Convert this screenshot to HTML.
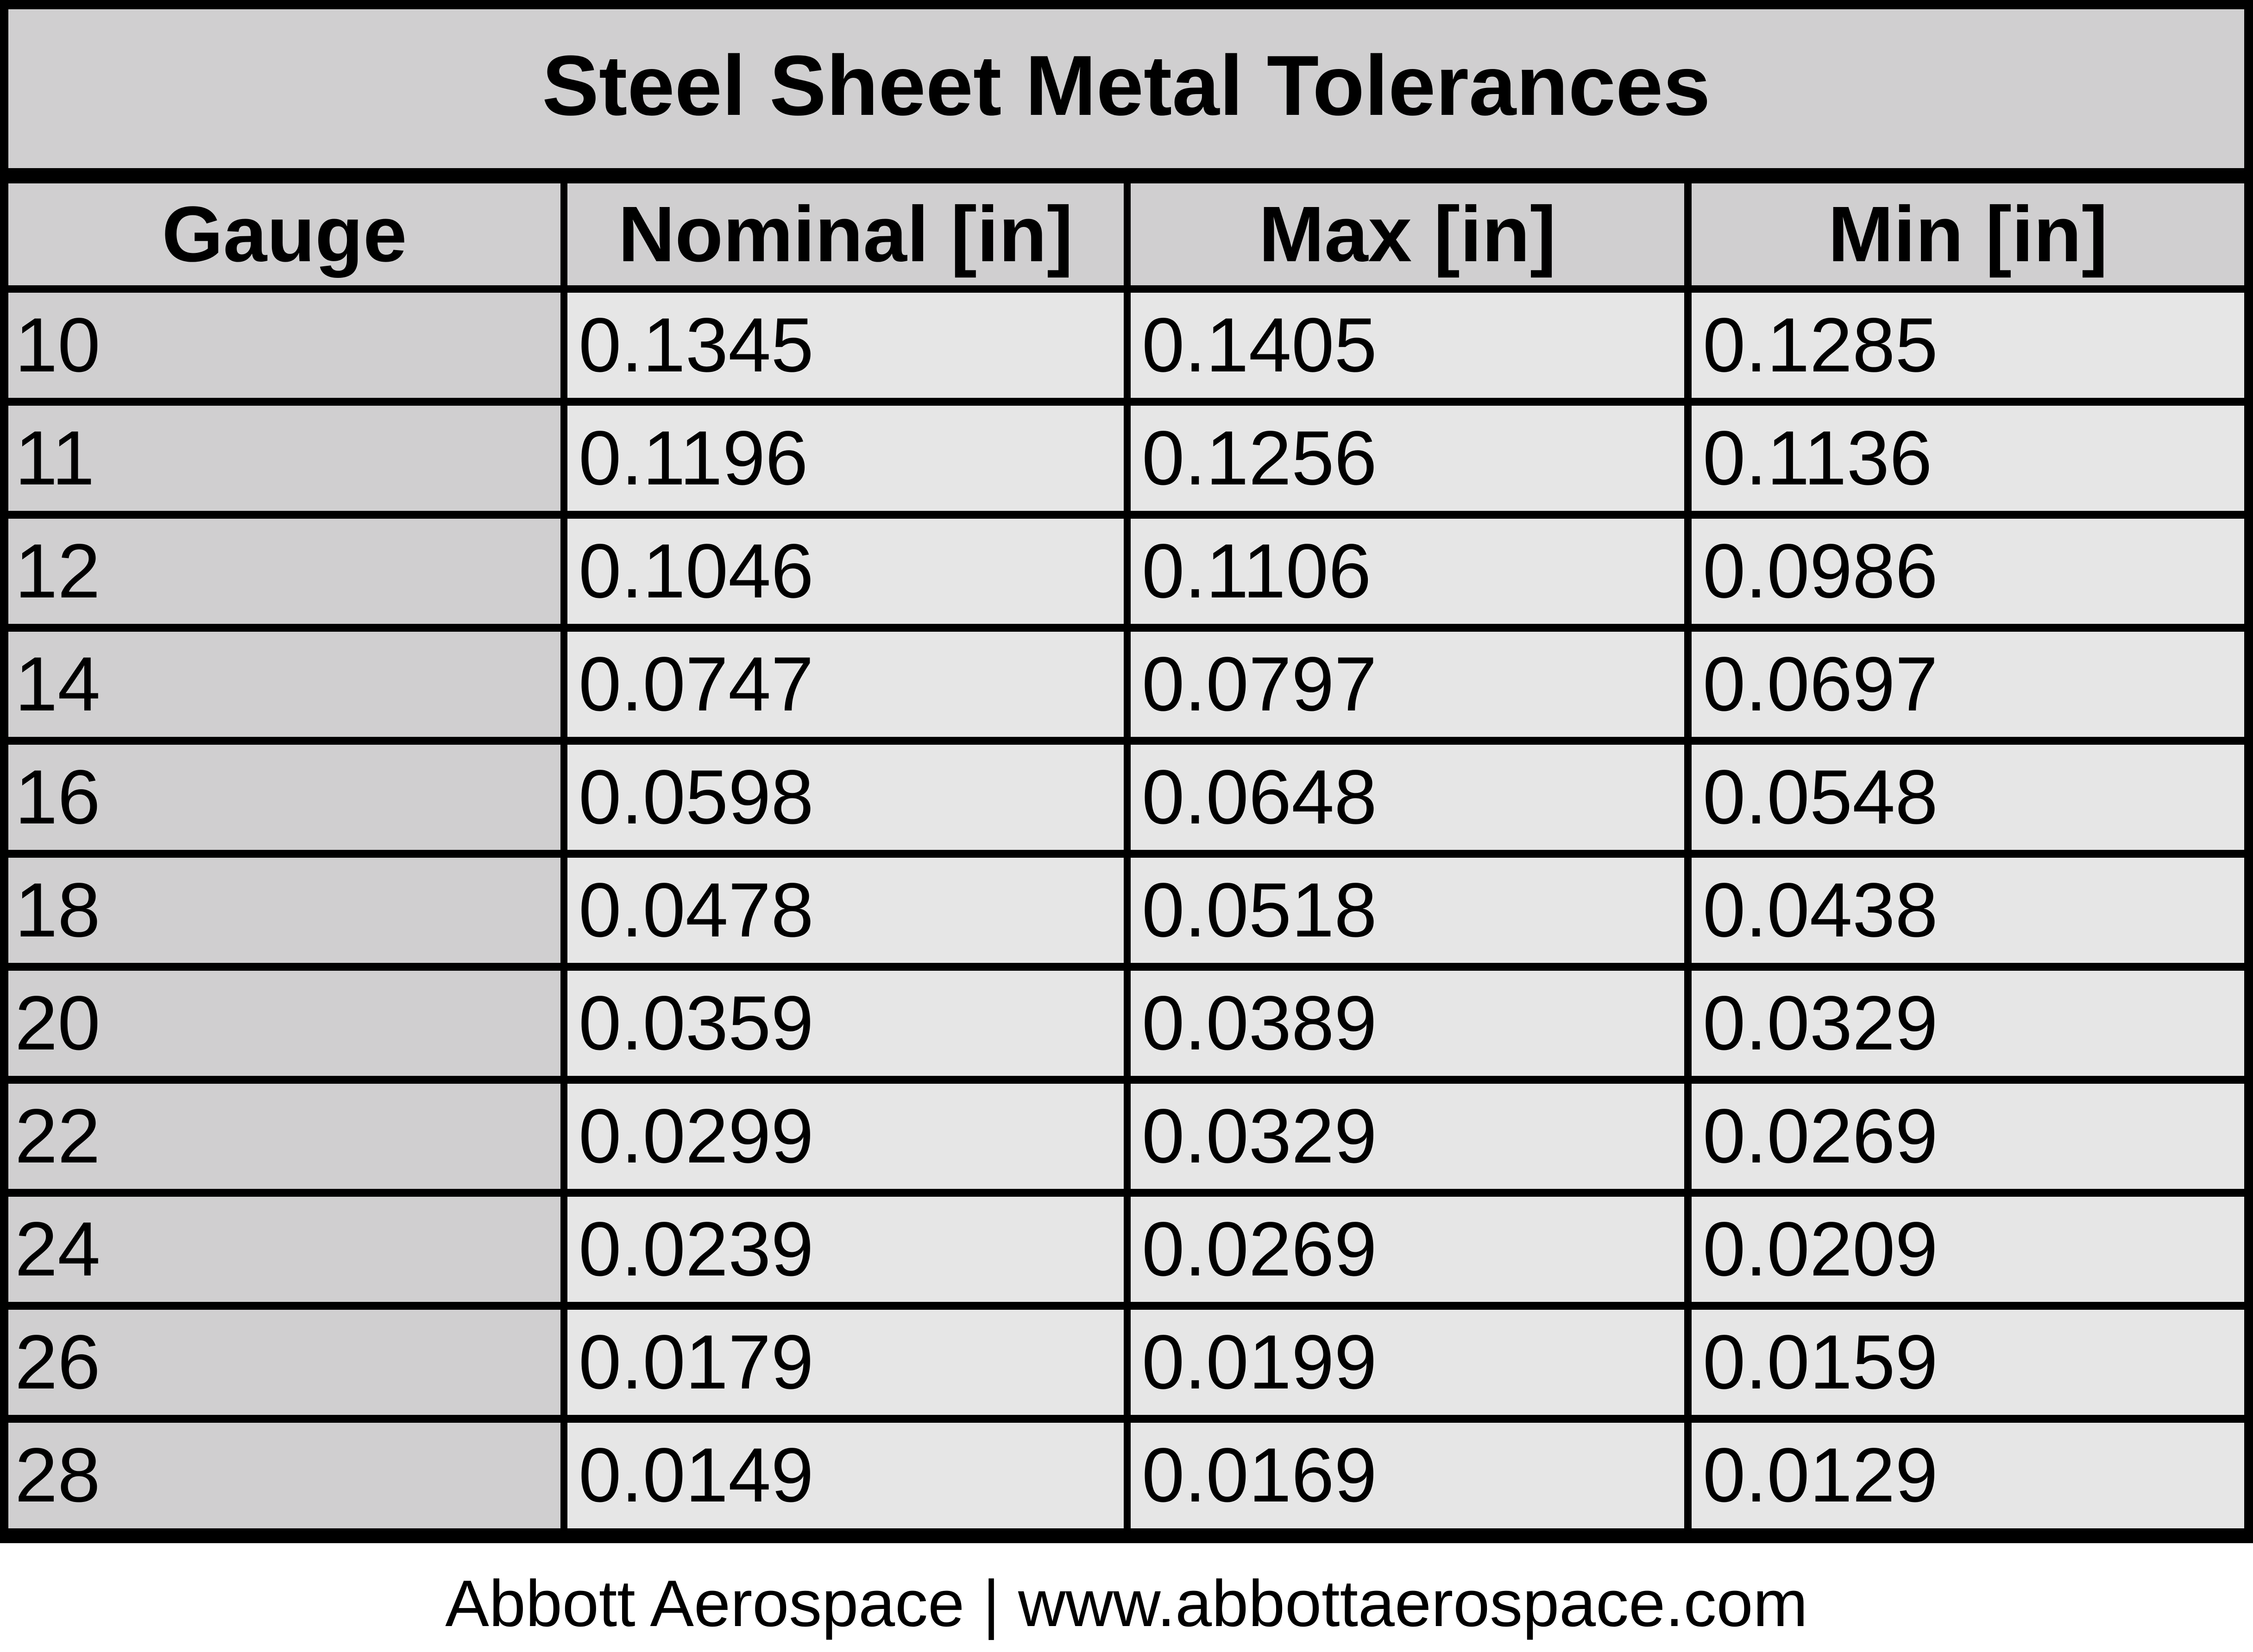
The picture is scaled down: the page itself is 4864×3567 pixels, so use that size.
<!DOCTYPE html>
<html><head><meta charset="utf-8"><style>
html,body{margin:0;padding:0;background:#fff}
body{width:4864px;height:3567px;position:relative;overflow:hidden;font-family:"Liberation Sans",Arial,sans-serif}
.b{position:absolute;background:#000}
.c{position:absolute;display:flex;align-items:center;box-sizing:border-box}
.h{justify-content:center;font-weight:bold;font-size:170px;background:#d0cfd0}
.d{font-size:166px;padding-left:24px;background:#e6e6e6}
.g{background:#d0cfd0;padding-left:14px}
</style></head><body>
<div class="b" style="left:0;top:0;width:4864px;height:3332px"></div>
<div class="c h" style="left:18px;top:20px;width:4827px;height:343px;font-size:184px"><span style="position:relative;top:-8px">Steel Sheet Metal Tolerances</span></div>
<div id="t"></div>
<div style="position:absolute;left:0;top:3392px;width:4864px;text-align:center;font-size:142px;line-height:142px;color:#000">Abbott Aerospace | www.abbottaerospace.com</div>
<script>
(function(){
var cols=[[18,1210],[1225,2426],[2441,3636],[3652,4845]];
var hdr=["Gauge","Nominal [in]","Max [in]","Min [in]"];
var data=[["10","0.1345","0.1405","0.1285"],["11","0.1196","0.1256","0.1136"],["12","0.1046","0.1106","0.0986"],["14","0.0747","0.0797","0.0697"],["16","0.0598","0.0648","0.0548"],["18","0.0478","0.0518","0.0438"],["20","0.0359","0.0389","0.0329"],["22","0.0299","0.0329","0.0269"],["24","0.0239","0.0269","0.0209"],["26","0.0179","0.0199","0.0159"],["28","0.0149","0.0169","0.0129"]];
var h="";
for(var j=0;j<4;j++){h+='<div class="c h" style="left:'+cols[j][0]+'px;top:396px;width:'+(cols[j][1]-cols[j][0])+'px;height:220px">'+hdr[j]+'</div>';}
for(var i=0;i<11;i++){var y=632+244*i;var ht=(i==10)?3300-y:227;
for(var j=0;j<4;j++){h+='<div class="c d'+(j==0?' g':'')+'" style="left:'+cols[j][0]+'px;top:'+y+'px;width:'+(cols[j][1]-cols[j][0])+'px;height:'+ht+'px">'+data[i][j]+'</div>';}}
document.getElementById('t').outerHTML=h;
})();
</script>
</body></html>
